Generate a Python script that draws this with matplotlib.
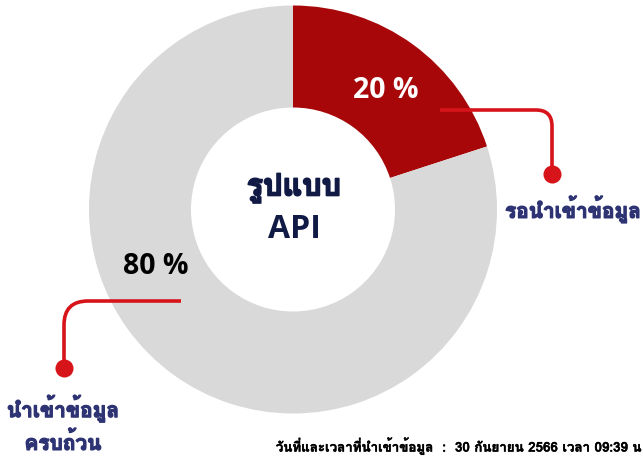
import matplotlib
matplotlib.use("Agg")
import matplotlib.pyplot as plt
import matplotlib.patheffects as pe
from matplotlib import font_manager
from matplotlib.ft2font import FT2Font
from matplotlib.path import Path
from matplotlib.patches import PathPatch

# data
categories = ["รอนำเข้าข้อมูล", "นำเข้าข้อมูล\nครบถ้วน"]
values = [20, 80]
center_title = ["รูปแบบ", "API"]
footer = "วันที่และเวลาที่นำเข้าข้อมูล  :  30 กันยายน 2566 เวลา 09:39 น"

colors = ["#A80709", "#D9D9D9"]
line_red = "#D7141A"
navy = "#2E3473"
dark = "#101A45"


def find_thai_font():
    # look for an installed family that has Thai glyphs, prefer bold faces
    best = None
    for f in font_manager.fontManager.ttflist:
        try:
            cmap = FT2Font(f.fname).get_charmap()
        except Exception:
            continue
        if 0x0E01 in cmap and 0x0E33 in cmap:
            score = 1 if f.weight in ("bold", 700, "semibold", 600) else 0
            if best is None or score > best[0]:
                best = (score, f.name)
    return best[1] if best else None


thai = find_thai_font()
fams = ([thai] if thai else []) + ["Noto Sans", "DejaVu Sans"]
plt.rcParams["font.family"] = fams
latin = ["Open Sans", "DejaVu Sans"]


def heavy(color, w=0.9):
    # thicken the glyphs a little, the reference font is heavier
    return [pe.withStroke(linewidth=w, foreground=color)]


W, H = 643, 459
fig = plt.figure(figsize=(W / 100, H / 100), dpi=100)
ax = fig.add_axes([0, 0, 1, 1])

cx, cy, r_out, r_in = 293, H - 209.5, 204, 102
ax.pie(values, colors=colors, startangle=90, counterclock=False,
       radius=r_out, center=(cx, cy),
       wedgeprops=dict(width=r_out - r_in, linewidth=0))
ax.set_xlim(0, W)
ax.set_ylim(0, H)
ax.set_aspect("equal")
ax.axis("off")

# percent labels
ax.text(386, H - 91, f"{values[0]} %", color="white", fontsize=20.5,
        fontweight="bold", ha="center", va="center", family=latin)
ax.text(156, H - 267, f"{values[1]} %", color="black", fontsize=20.5,
        fontweight="bold", ha="center", va="center", family=latin)

# center title
ax.text(294, H - 188, center_title[0], color=dark, fontsize=22,
        fontweight="bold", ha="center", va="center",
        path_effects=heavy(dark, 1.2))
ax.text(294, H - 230, center_title[1], color=dark, fontsize=23,
        fontweight="bold", ha="center", va="center", family=latin)


def leader(pts, rad):
    # horizontal segment, rounded corner, vertical segment down to a dot
    (x0, y0), (xc, yc), (x1, y1) = pts
    sx = 1 if xc > x0 else -1
    verts = [(x0, y0), (xc - sx * rad, y0), (xc, y0), (xc, y0 - rad), (x1, y1)]
    codes = [Path.MOVETO, Path.LINETO, Path.CURVE3, Path.CURVE3, Path.LINETO]
    ax.add_patch(PathPatch(Path(verts, codes), fill=False, color=line_red,
                           lw=2.6, capstyle="butt"))
    ax.plot([x1], [y1], "o", color=line_red, ms=13, mec="none")


leader([(440, H - 110), (552, H - 110), (552, H - 174)], 16)
leader([(181, H - 301), (64, H - 301), (64, H - 368)], 24)

ax.text(573, H - 209, categories[0], color=navy, fontsize=15,
        fontweight="bold", ha="center", va="center",
        path_effects=heavy(navy))
ax.text(63, H - 424, categories[1], color=navy, fontsize=15,
        fontweight="bold", ha="center", va="center", linespacing=1.45,
        path_effects=heavy(navy))

ax.text(641, H - 446, footer, color="black", fontsize=9.6,
        fontweight="bold", ha="right", va="center",
        path_effects=heavy("black", 0.3))

fig.savefig("out.png", dpi=100)
